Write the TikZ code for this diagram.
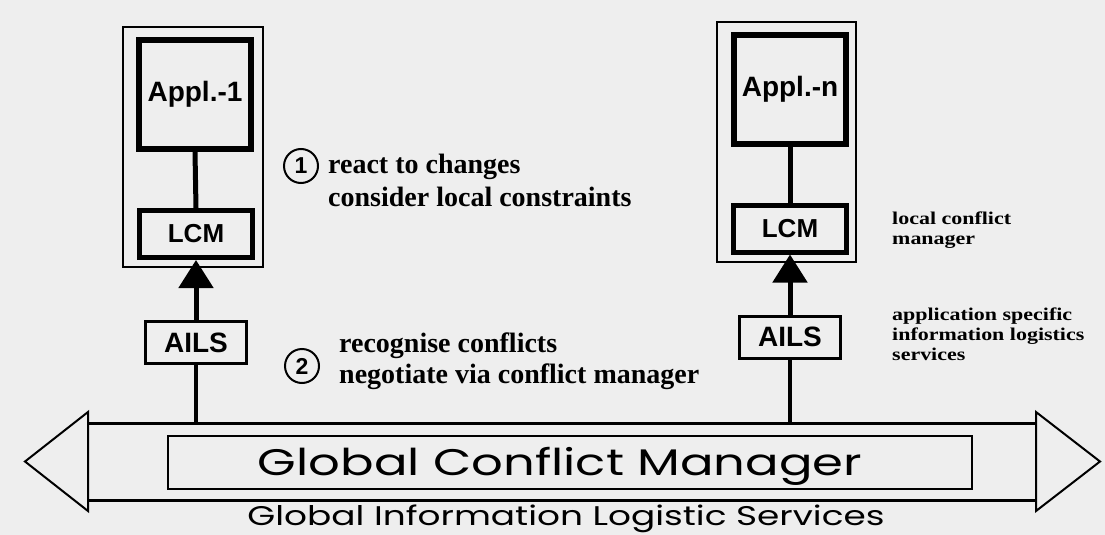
\documentclass[tikz,border=0pt]{standalone}
\usepackage{fontspec}
\usetikzlibrary{arrows.meta}
\newfontfamily\lsans{Liberation Sans}
\newfontfamily\lserif{Liberation Serif}
\newfontfamily\gothicfont{Poppins}
\definecolor{paper}{RGB}{238,238,238}
\begin{document}
\begin{tikzpicture}[x=1pt,y=-1pt,
  frame/.style={draw, line width=2pt, inner sep=0pt},
  appbox/.style={draw, line width=6pt, inner sep=0pt,
    minimum width=112pt, minimum height=109pt,
    font=\lsans\bfseries\fontsize{28}{30}\selectfont},
  lcmbox/.style={draw, line width=5pt, inner sep=0pt,
    minimum width=113pt, minimum height=47pt,
    font=\lsans\bfseries\fontsize{26}{28}\selectfont},
  ailsbox/.style={draw, line width=3pt, inner sep=0pt,
    minimum width=101pt, minimum height=42pt,
    font=\lsans\bfseries\fontsize{28}{30}\selectfont},
  link/.style={line width=5pt},
  uparrow/.style={line width=5pt, -{Triangle[length=28pt,width=34pt]}},
  feed/.style={line width=3.5pt},
  band/.style={line width=3pt},
  head/.style={line width=2pt, line join=miter},
  stepnum/.style={draw, circle, line width=2pt, inner sep=0pt,
    minimum size=34pt, font=\lsans\bfseries\fontsize{23}{25}\selectfont},
  note/.style={anchor=base west, inner sep=0pt,
    font=\lserif\bfseries\fontsize{28}{33}\selectfont},
  side/.style={anchor=base west, inner sep=0pt,
    font=\lserif\bfseries\fontsize{18}{20}\selectfont},
]
% paper
\fill[paper] (0,0) rectangle (1105,535);
\useasboundingbox (0,0) rectangle (1105,535);

% application 1 column
\node[frame, minimum width=140pt, minimum height=240pt] (frame1) at (193,147) {};
\node[appbox] (app1) at (195,94.5) {Appl.-1};
\node[lcmbox] (lcm1) at (196,234) {LCM};
\node[ailsbox] (ails1) at (196,342.5) {AILS};

% application n column
\node[frame, minimum width=139pt, minimum height=240pt] (framen) at (786.5,142) {};
\node[appbox] (appn) at (790,89.5) {Appl.-n};
\node[lcmbox] (lcmn) at (790,228.5) {LCM};
\node[ailsbox] (ailsn) at (790,337) {AILS};

% links inside the columns
\draw[link] (app1.south) -- (lcm1.north);
\draw[link] (appn.south) -- (lcmn.north);
\draw[uparrow] (ails1.north) -- (lcm1.south);
\draw[uparrow] (ailsn.north) -- (lcmn.south);

% double-headed band of the global services
\coordinate (ltip) at (25,461.5);
\coordinate (lup) at (88,412);
\coordinate (llow) at (88,511);
\coordinate (rtip) at (1100,461.5);
\coordinate (rup) at (1036,412);
\coordinate (rlow) at (1036,511);
\coordinate (btopl) at (88,423);
\coordinate (btopr) at (1036,423);
\coordinate (bbotl) at (88,500);
\coordinate (bbotr) at (1036,500);
\draw[head] (ltip) -- (lup) -- (llow) -- cycle;
\draw[head] (rtip) -- (rup) -- (rlow) -- cycle;
\draw[band] (btopl) -- (btopr);
\draw[band] (bbotl) -- (bbotr);
\node[draw, line width=2pt, minimum width=804pt, minimum height=53pt, inner sep=0pt]
  (gcm) at (570,462) {};
\node[anchor=base, inner sep=0pt, font=\gothicfont\fontsize{37}{40}\selectfont]
  (gcmtext) at (560,475) {\resizebox{604pt}{\height}{Global Conflict Manager}};
\node[anchor=base, inner sep=0pt, font=\gothicfont\fontsize{27}{30}\selectfont]
  (gils) at (566,525) {\resizebox{637pt}{\height}{Global Information Logistic Services}};

% feeds from the band to the AILS boxes
\coordinate (feed1) at (196,423);
\coordinate (feedn) at (790,423);
\draw[feed] (ails1.south) -- (feed1);
\draw[feed] (ailsn.south) -- (feedn);

% numbered remarks
\node[stepnum] (s1) at (301,166) {1};
\node[note] (s1a) at (328,173) {react to changes};
\node[note] (s1b) at (328,206) {consider local constraints};
\node[stepnum] (s2) at (302,366) {2};
\node[note] (s2a) at (339,352) {recognise conflicts};
\node[note] (s2b) at (339,383) {negotiate via conflict manager};

% side labels
\node[side] (l1) at (892,224) {\scalebox{1.22}[1]{local conflict}};
\node[side] (l2) at (892,244) {\scalebox{1.22}[1]{manager}};
\node[side] (a1) at (892,320) {\scalebox{1.22}[1]{application specific}};
\node[side] (a2) at (892,340) {\scalebox{1.22}[1]{information logistics}};
\node[side] (a3) at (892,360) {\scalebox{1.22}[1]{services}};
\end{tikzpicture}
\end{document}
